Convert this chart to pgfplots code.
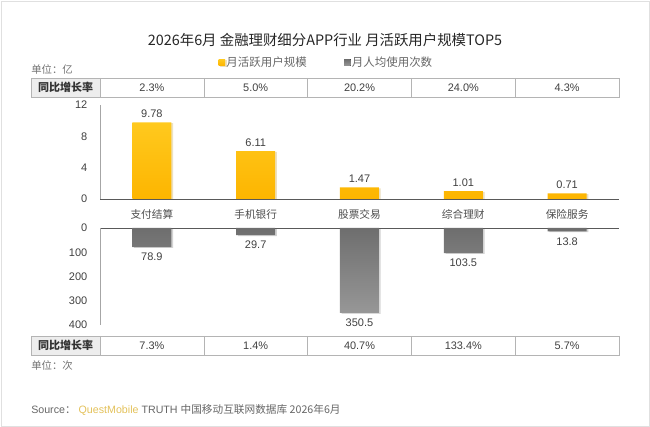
\documentclass[border=0pt]{standalone}
\usepackage{pgfplots}
\pgfplotsset{compat=1.18}
\usepackage{fontspec}
\setmainfont{Liberation Sans}
\newfontfamily\cjk{Noto Sans CJK SC}
\usetikzlibrary{shadows}
\definecolor{txt}{HTML}{404040}
\definecolor{tbl}{HTML}{B4B4B4}
\definecolor{cellg}{HTML}{EDEDED}
\definecolor{yelT}{HTML}{FFC91E}
\definecolor{yelB}{HTML}{FDB500}
\definecolor{gryT}{HTML}{6E6E6E}
\definecolor{gryB}{HTML}{979797}
\definecolor{qm}{HTML}{E3C15A}
\begin{document}
\begin{tikzpicture}[x=0.75pt,y=-0.75pt]
\path[use as bounding box] (0,0) rectangle (650,427);
\draw[black!12] (1,1) rectangle (649,426);
% title
\node[font=\cjk\fontsize{10.8}{13}\selectfont, text=black!85] at (325,40) {2026年6月 金融理财细分APP行业 月活跃用户规模TOP5};
% units
\node[font=\cjk\fontsize{7.8}{10}\selectfont, text=black!55, anchor=west, inner sep=0] at (31,70) {单位：亿};
\node[font=\cjk\fontsize{7.8}{10}\selectfont, text=black!55, anchor=west, inner sep=0] at (31,366) {单位：次};
% top table
\fill[cellg] (31,78) rectangle (100,97);
\draw[tbl] (31,78) rectangle (619,97);
\foreach \xx in {100,203.8,307.6,411.4,515.2} \draw[tbl] (\xx,78) -- (\xx,97);
\node[font=\cjk\bfseries\fontsize{8.25}{10}\selectfont, text=black!80] at (65.5,87.5) {同比增长率};
\foreach \v [count=\i from 0] in {2.3\%,5.0\%,20.2\%,24.0\%,4.3\%}
  \node[font=\fontsize{8.2}{10}\selectfont, text=txt] at (151.9+103.8*\i,87.5) {\v};
% bottom table
\fill[cellg] (31,336) rectangle (100,355);
\draw[tbl] (31,336) rectangle (619,355);
\foreach \xx in {100,203.8,307.6,411.4,515.2} \draw[tbl] (\xx,336) -- (\xx,355);
\node[font=\cjk\bfseries\fontsize{8.25}{10}\selectfont, text=black!80] at (65.5,345.5) {同比增长率};
\foreach \v [count=\i from 0] in {7.3\%,1.4\%,40.7\%,133.4\%,5.7\%}
  \node[font=\fontsize{8.2}{10}\selectfont, text=txt] at (151.9+103.8*\i,345.5) {\v};
% source
\node[font=\fontsize{8}{10}\selectfont, text=black!60, anchor=west, inner sep=0] at (31,410)
  {Source{\cjk ：} {\color{qm}QuestMobile} TRUTH {\cjk 中国移动互联网数据库 2026年6月}};

% top axis
\begin{axis}[
  at={(75pt,-149.25pt)}, anchor=south west, scale only axis,
  width=389.25pt, height=70.5pt,
  xmin=-0.5, xmax=4.5, ymin=0, ymax=12,
  axis x line*=bottom, axis y line*=left,
  x axis line style={draw=black!65,-},
  y axis line style={draw=black!35,-},
  ytick={0,4,8,12}, xtick={0,1,2,3,4},
  xticklabels={支付结算,手机银行,股票交易,综合理财,保险服务},
  major tick length=0pt,
  ticklabel style={font=\fontsize{8.25}{10}\selectfont, text=txt},
  xticklabel style={font=\cjk\fontsize{8}{10}\selectfont, text=black!70, yshift=-4.5pt},
  yticklabel style={xshift=-6pt},
  /pgf/number format/assume math mode=true,
  ybar, bar width=29.25pt,
  nodes near coords,
  nodes near coords style={font=\fontsize{8.25}{10}\selectfont, text=txt},
  legend image code/.code={\fill[#1] (0pt,-2.45pt) rectangle (4.9pt,2.45pt);},
  legend style={at={(0.228,1.452)}, anchor=west, draw=none, fill=none, inner sep=0pt,
    font=\cjk\fontsize{8.6}{10}\selectfont, text=black!60,
    legend columns=2, /tikz/every even column/.append style={column sep=27pt},
    nodes={inner sep=1pt}},
]
\addplot[draw=none, top color=yelT, bottom color=yelB,
  drop shadow={shadow xshift=1.3pt, shadow yshift=-0.6pt, opacity=0.18}] coordinates {(0,9.78) (1,6.11) (2,1.47) (3,1.01) (4,0.71)};
\addlegendentry{月活跃用户规模}
\addlegendimage{draw=none, top color=gryT, bottom color=gryB}
\addlegendentry{月人均使用次数}
\end{axis}

% bottom axis
\begin{axis}[
  at={(75pt,-171pt)}, anchor=north west, scale only axis,
  width=389.25pt, height=72.75pt,
  xmin=-0.5, xmax=4.5, ymin=0, ymax=400, y dir=reverse,
  axis x line*=top, axis y line*=left,
  x axis line style={draw=black!65,-},
  y axis line style={draw=black!35,-},
  ytick={0,100,200,300,400}, xtick=\empty,
  major tick length=0pt,
  ticklabel style={font=\fontsize{8.25}{10}\selectfont, text=txt},
  yticklabel style={xshift=-6pt},
  /pgf/number format/assume math mode=true,
  ybar, bar width=29.25pt,
  nodes near coords,
  nodes near coords style={font=\fontsize{8.25}{10}\selectfont, text=txt, anchor=north, yshift=-1pt},
]
\addplot[draw=none, top color=gryT, bottom color=gryB,
  drop shadow={shadow xshift=1.3pt, shadow yshift=-0.6pt, opacity=0.18}] coordinates {(0,78.9) (1,29.7) (2,350.5) (3,103.5) (4,13.8)};
\end{axis}
\end{tikzpicture}
\end{document}
